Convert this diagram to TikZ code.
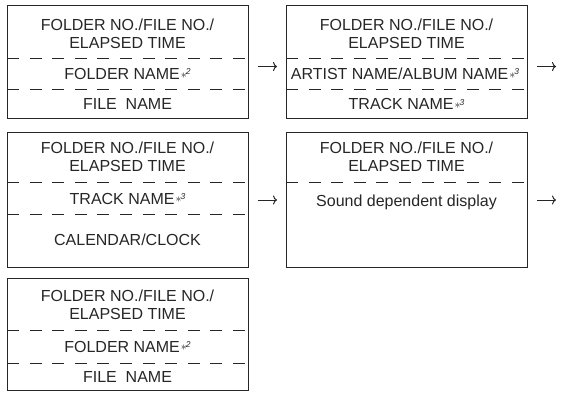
\documentclass[tikz,border=0pt]{standalone}
\usepackage{fontspec}
\setmainfont{Liberation Sans}
\usetikzlibrary{calc,arrows.meta}
\newcommand{\nmark}[1]{\kern1pt\smash{\fontsize{13}{13}\selectfont\raisebox{1.5pt}{$\ast$}\kern-1pt\raisebox{5pt}{\fontsize{8.5}{8.5}\selectfont\itshape #1}}}
\begin{document}
\begin{tikzpicture}[x=1pt,y=-1pt,>={To[length=4pt,width=9pt]},
  box/.style={draw=black!85,line width=1pt,anchor=north west,inner sep=0pt,minimum width=241pt},
  txt/.style={text=black!85,font=\fontsize{16}{18}\selectfont,align=center,inner sep=0pt},
  sep/.style={draw=black!85,line width=1pt,dash pattern=on 12pt off 10.6pt},
  arr/.style={->,draw=black!85,line width=1pt,shorten <=9pt,shorten >=9pt}]
\useasboundingbox (0,0) rectangle (561,393);
\node[box,minimum height=113pt] (b1) at (7,5) {};
\node[box,minimum height=113pt] (b2) at (286,5) {};
\node[box,minimum height=135pt] (b3) at (7,132) {};
\node[box,minimum height=135pt] (b4) at (286,132) {};
\node[box,minimum height=112pt] (b5) at (7,278) {};
\draw[sep] ($(b1.north west)+(0,54)$) -- ($(b1.north east)+(0,54)$);
\draw[sep] ($(b1.north west)+(0,85)$) -- ($(b1.north east)+(0,85)$);
\draw[sep] ($(b2.north west)+(0,54)$) -- ($(b2.north east)+(0,54)$);
\draw[sep] ($(b2.north west)+(0,85)$) -- ($(b2.north east)+(0,85)$);
\draw[sep] ($(b3.north west)+(0,50)$) -- ($(b3.north east)+(0,50)$);
\draw[sep] ($(b3.north west)+(0,82.5)$) -- ($(b3.north east)+(0,82.5)$);
\draw[sep] ($(b4.north west)+(0,50)$) -- ($(b4.north east)+(0,50)$);
\draw[sep] ($(b5.north west)+(0,52)$) -- ($(b5.north east)+(0,52)$);
\draw[sep] ($(b5.north west)+(0,85)$) -- ($(b5.north east)+(0,85)$);
\node[txt] (t1a) at (127.5,34) {FOLDER NO./FILE NO./\\ELAPSED TIME};
\node[txt,anchor=base] (t1b) at (127.5,80) {FOLDER NAME\nmark{2}};
\node[txt,anchor=base] (t1c) at (127.5,110) {FILE\ \ NAME};
\node[txt] (t2a) at (406.5,34) {FOLDER NO./FILE NO./\\ELAPSED TIME};
\node[txt,anchor=base] (t2b) at (405,80) {ARTIST NAME/ALBUM NAME\nmark{3}};
\node[txt,anchor=base] (t2c) at (406.5,110) {TRACK NAME\nmark{3}};
\node[txt] (t3a) at (127.5,157) {FOLDER NO./FILE NO./\\ELAPSED TIME};
\node[txt,anchor=base] (t3b) at (127.5,204) {TRACK NAME\nmark{3}};
\node[txt,anchor=base] (t3c) at (127.5,245.5) {CALENDAR/CLOCK};
\node[txt] (t4a) at (406.5,157) {FOLDER NO./FILE NO./\\ELAPSED TIME};
\node[txt,anchor=base] (t4b) at (406.5,206) {Sound dependent display};
\node[txt] (t5a) at (127.5,305) {FOLDER NO./FILE NO./\\ELAPSED TIME};
\node[txt,anchor=base] (t5b) at (127.5,352) {FOLDER NAME\nmark{2}};
\node[txt,anchor=base] (t5c) at (127.5,382) {FILE\ \ NAME};
\coordinate (o2) at ($(b2.east)+(37,4.5)$);
\coordinate (o4) at ($(b4.east)+(37,0)$);
\draw[arr] ([yshift=-4.5pt]b1.east) -- ([yshift=-4.5pt]b2.west);
\draw[arr] ([yshift=-4.5pt]b2.east) -- (o2);
\draw[arr] (b3) -- (b4);
\draw[arr] (b4) -- (o4);
\end{tikzpicture}
\end{document}
